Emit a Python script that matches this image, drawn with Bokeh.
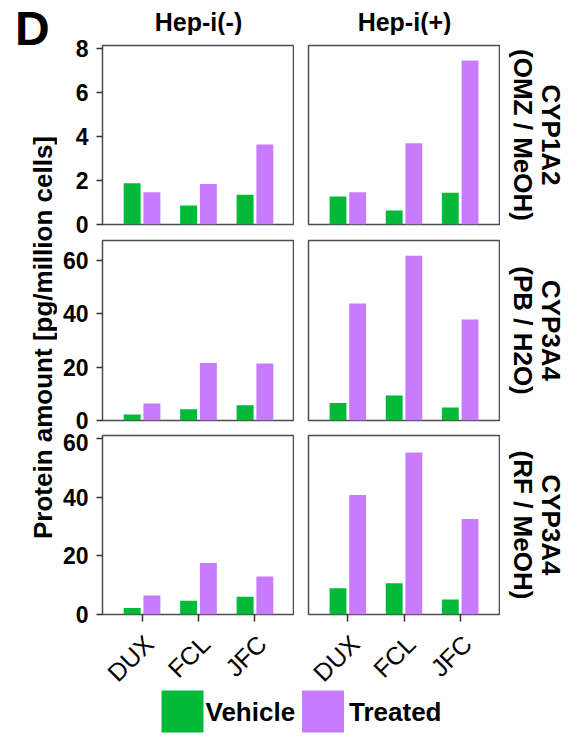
import math
from bokeh.plotting import figure
from bokeh.models import Range1d, FactorRange, FixedTicker, ColumnDataSource
from bokeh.transform import dodge
from bokeh.layouts import row, column
from bokeh.core.properties import value
from bokeh.embed import file_html
from bokeh.resources import INLINE

# ---------------- data ----------------
panel_letter = "D"
y_title = "Protein amount [pg/million cells]"
groups = ["Hep-i(-)", "Hep-i(+)"]
donors = ["DUX", "FCL", "JFC"]
strip_line1 = ["CYP1A2", "CYP3A4", "CYP3A4"]
strip_line2 = ["(OMZ / MeOH)", "(PB / H2O)", "(RF / MeOH)"]
legend_labels = ["Vehicle", "Treated"]

cyp1a2_minus_vehicle = [1.88, 0.87, 1.35]
cyp1a2_minus_treated = [1.47, 1.84, 3.64]
cyp1a2_plus_vehicle = [1.27, 0.64, 1.44]
cyp1a2_plus_treated = [1.47, 3.70, 7.47]

pb_minus_vehicle = [2.25, 4.25, 5.75]
pb_minus_treated = [6.4, 21.6, 21.4]
pb_plus_vehicle = [6.6, 9.4, 4.9]
pb_plus_treated = [43.9, 61.75, 37.9]

rf_minus_vehicle = [2.25, 4.7, 6.1]
rf_minus_treated = [6.5, 17.6, 13.0]
rf_plus_vehicle = [9.0, 10.7, 5.1]
rf_plus_treated = [40.8, 55.3, 32.6]

row_ymax = [8.15, 67.5, 61.1]
row_ticks = [[0, 2, 4, 6, 8], [0, 20, 40, 60], [0, 20, 40, 60]]

# ---------------- style ----------------
FONT = "Liberation Sans"
GREEN = "#00BA38"
PURPLE = "#C77CFF"
BORDER = "#4d4d4d"
TICK = "#333333"


def pixel_fig(w, h, x_range=None, mb_l=0, mb_r=0):
    p = figure(width=w, height=h,
               x_range=x_range if x_range is not None else Range1d(0, w),
               y_range=Range1d(h, 0), title=None,
               x_axis_location=None, y_axis_location=None,
               toolbar_location=None, output_backend="svg", min_border=0,
               min_border_left=mb_l, min_border_right=mb_r)
    p.outline_line_color = None
    p.grid.visible = False
    return p


def panel(vehicle, treated, ymax, ticks, x_range, w, h, mb_l, mb_r, mb_t, mb_b,
          show_y, show_x):
    p = figure(width=w, height=h, x_range=x_range, title=None,
               y_range=Range1d(0, ymax), toolbar_location=None,
               output_backend="svg",
               min_border_left=mb_l, min_border_right=mb_r,
               min_border_top=mb_t, min_border_bottom=mb_b)
    src = ColumnDataSource(dict(donor=donors, vehicle=vehicle, treated=treated))
    p.vbar(x=dodge("donor", -0.175, range=p.x_range), top="vehicle", width=0.3,
           source=src, fill_color=GREEN, line_color=None)
    p.vbar(x=dodge("donor", 0.175, range=p.x_range), top="treated", width=0.3,
           source=src, fill_color=PURPLE, line_color=None)
    p.grid.visible = False
    p.outline_line_color = BORDER
    p.outline_line_width = 1.5

    ya = p.yaxis[0]
    if show_y:
        ya.ticker = FixedTicker(ticks=ticks)
        ya.axis_line_color = None
        ya.major_tick_in = 0
        ya.major_tick_out = 6
        ya.major_tick_line_color = TICK
        ya.major_tick_line_width = 1.5
        ya.minor_tick_line_color = None
        ya.major_label_standoff = 8
        ya.major_label_text_font = FONT
        ya.major_label_text_font_style = "bold"
        ya.major_label_text_font_size = "23px"
        ya.major_label_text_color = "black"
    else:
        ya.visible = False

    xa = p.xaxis[0]
    if show_x:
        xa.axis_line_color = None
        xa.major_tick_in = 0
        xa.major_tick_out = 7
        xa.major_tick_line_color = TICK
        xa.major_tick_line_width = 1.5
        xa.minor_tick_line_color = None
        xa.major_label_overrides = {d: "" for d in donors}
        xa.major_label_text_color = None
        xa.major_label_standoff = 0
    else:
        xa.visible = False
    return p


# ---------------- layout geometry (px, page has no margin) ----------------
LEFT_W, LCOL_W, RCOL_W, STRIP_W = 57, 237, 206, 82
TOP_H = 35
ROW_H = [203, 195, 194]
ROW_MB = [(10, 14), (2, 13), (2, 13)]
XLAB_H = 57
LEG_H = 56
L_MB = (45, 0)
R_MB = (14, 1)

data_rows = [
    (cyp1a2_minus_vehicle, cyp1a2_minus_treated, cyp1a2_plus_vehicle, cyp1a2_plus_treated),
    (pb_minus_vehicle, pb_minus_treated, pb_plus_vehicle, pb_plus_treated),
    (rf_minus_vehicle, rf_minus_treated, rf_plus_vehicle, rf_plus_treated),
]

xr_left = FactorRange(factors=donors, range_padding=0.2, range_padding_units="absolute")
xr_right = FactorRange(factors=donors, range_padding=0.2, range_padding_units="absolute")

left_panels, right_panels = [], []
for i, (mv, mt, pv, pt) in enumerate(data_rows):
    mb_t, mb_b = ROW_MB[i]
    last = i == len(data_rows) - 1
    left_panels.append(panel(mv, mt, row_ymax[i], row_ticks[i], xr_left, LCOL_W, ROW_H[i],
                             L_MB[0], L_MB[1], mb_t, mb_b, True, last))
    right_panels.append(panel(pv, pt, row_ymax[i], row_ticks[i], xr_right, RCOL_W, ROW_H[i],
                              R_MB[0], R_MB[1], mb_t, mb_b, False, last))


# x tick labels (rotated 45 deg), placed on the shared categorical scales
def xlab_fig(x_range, w, mb):
    p = pixel_fig(w, XLAB_H, x_range=x_range, mb_l=mb[0], mb_r=mb[1])
    p.text(x=donors, y=[12] * len(donors), text=donors, x_offset=7,
           angle=math.pi / 4, text_font=value(FONT), text_font_size="25px",
           text_align="right", text_baseline="middle", text_color="black")
    return p


left_panels.append(xlab_fig(xr_left, LCOL_W, L_MB))
right_panels.append(xlab_fig(xr_right, RCOL_W, R_MB))

grid_h = sum(ROW_H) + XLAB_H

# top strip titles
top_fig = pixel_fig(LCOL_W + RCOL_W + STRIP_W, TOP_H)
top_fig.text(x=[141, 347], y=[21.5, 21.5], text=groups,
             text_font=value(FONT), text_font_size="25px", text_font_style="bold",
             text_align="center", text_baseline="middle", text_color="black")

# right strip labels
strip_fig = pixel_fig(STRIP_W, grid_h)
row_centers = []
acc = 0
for i, h in enumerate(ROW_H):
    mb_t, mb_b = ROW_MB[i]
    row_centers.append(acc + mb_t + (h - mb_t - mb_b) / 2)
    acc += h
strip_fig.text(x=[50.9] * 3, y=row_centers, text=strip_line1, angle=-math.pi / 2,
               text_font=value(FONT), text_font_size="26px", text_font_style="bold",
               text_align="center", text_baseline="middle", text_color="black")
strip_fig.text(x=[22.7] * 3, y=row_centers, text=strip_line2, angle=-math.pi / 2,
               text_font=value(FONT), text_font_size="26px", text_font_style="bold",
               text_align="center", text_baseline="middle", text_color="black")

# left: panel letter + y title
left_h = TOP_H + grid_h
left_fig = pixel_fig(LEFT_W, left_h)
left_fig.text(x=[14.5], y=[27.5], text=[panel_letter],
              text_font=value(FONT), text_font_size="48px", text_font_style="bold",
              text_align="left", text_baseline="middle", text_color="black")
left_fig.text(x=[42.4], y=[337], text=[y_title], angle=math.pi / 2,
              text_font=value(FONT), text_font_size="26px", text_font_style="bold",
              text_align="center", text_baseline="middle", text_color="black")

# legend
total_w = LEFT_W + LCOL_W + RCOL_W + STRIP_W
leg_fig = pixel_fig(total_w, LEG_H)
leg_fig.rect(x=[182, 322.5], y=[27, 27], width=42, height=42,
             fill_color=[GREEN, PURPLE], line_color=None)
leg_fig.text(x=[205, 348.5], y=[27.2, 27.2], text=legend_labels,
             text_font=value(FONT), text_font_size="26px", text_font_style="bold",
             text_align="left", text_baseline="middle", text_color="black")

grid = row(column(*left_panels), column(*right_panels), strip_fig)
main = column(top_fig, grid)
upper = row(left_fig, main)
page = column(upper, leg_fig)

open("out.html", "w").write(file_html(page, INLINE))
